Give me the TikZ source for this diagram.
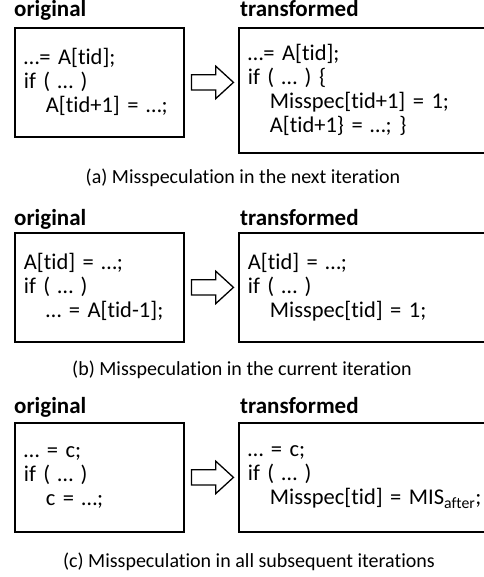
\documentclass[tikz,border=0pt]{standalone}
\usepackage{fontspec}
\setmainfont[Ligatures=NoCommon]{Carlito}
\usetikzlibrary{positioning,shapes.arrows}
\newcommand{\codeind}{\hspace*{22pt}}
\newcommand{\codefont}{\fontsize{22.5}{24}\selectfont}

\begin{document}
\begin{tikzpicture}[x=1pt,y=1pt,
  codebox/.style={draw,line width=1.8pt,anchor=north west,align=left,inner xsep=9pt,inner ysep=0pt,font=\codefont},
  orig/.style={codebox,minimum width=169pt,text width=151pt,minimum height=109pt},
  trans/.style={codebox,minimum width=260pt,text width=242pt,minimum height=109pt},
  lbl/.style={font=\bfseries\fontsize{23}{26}\selectfont,anchor=base west,inner sep=0pt},
  subcap/.style={font=\fontsize{20}{24}\selectfont,anchor=base,inner sep=0pt},
  fatarrow/.style={single arrow,draw,line width=1.3pt,inner xsep=0pt,inner ysep=7pt,minimum height=42pt,
    single arrow head extend=8.5pt,single arrow tip angle=85}]
  \useasboundingbox (0,0) rectangle (483,-577);

  % (a) next iteration
  \node[orig] (origA) at (14,-27) {\dots= A[tid];\\if ( \dots{} )\\\codeind A[tid+1] = \dots;};
  \node[trans,minimum height=125pt] (transA) at (238,-27)
    {\dots= A[tid];\\if ( \dots{} ) \{\\\codeind Misspec[tid+1] = 1;\\\codeind A[tid+1\} = \dots; \}};
  \node[fatarrow,right=6pt of origA] (arrA) {};
  \node[lbl] (labOrigA) at (14,-17) {original};
  \node[lbl] (labTransA) at (240,-17) {transformed};
  \node[subcap] (capA) at (243,-184) {(a) Misspeculation in the next iteration};

  % (b) current iteration
  \node[orig] (origB) at (14,-232) {A[tid] = \dots;\\if ( \dots{} )\\\codeind\dots{} = A[tid-1];};
  \node[trans] (transB) at (238,-232) {A[tid] = \dots;\\if ( \dots{} )\\\codeind Misspec[tid] = 1;};
  \node[fatarrow,right=6pt of origB] (arrB) {};
  \node[lbl] (labOrigB) at (14,-225) {original};
  \node[lbl] (labTransB) at (240,-225) {transformed};
  \node[subcap] (capB) at (242,-375) {(b) Misspeculation in the current iteration};

  % (c) all subsequent iterations
  \node[orig] (origC) at (14,-422) {\dots{} = c;\\if ( \dots{} )\\\codeind c = \dots;};
  \node[trans] (transC) at (238,-422)
    {\dots{} = c;\\if ( \dots{} )\\\codeind Misspec[tid] = MIS\textsubscript{after};};
  \node[fatarrow,right=6pt of origC] (arrC) {};
  \node[lbl] (labOrigC) at (14,-413) {original};
  \node[lbl] (labTransC) at (240,-413) {transformed};
  \node[subcap] (capC) at (249,-567) {(c) Misspeculation in all subsequent iterations};
\end{tikzpicture}
\end{document}
